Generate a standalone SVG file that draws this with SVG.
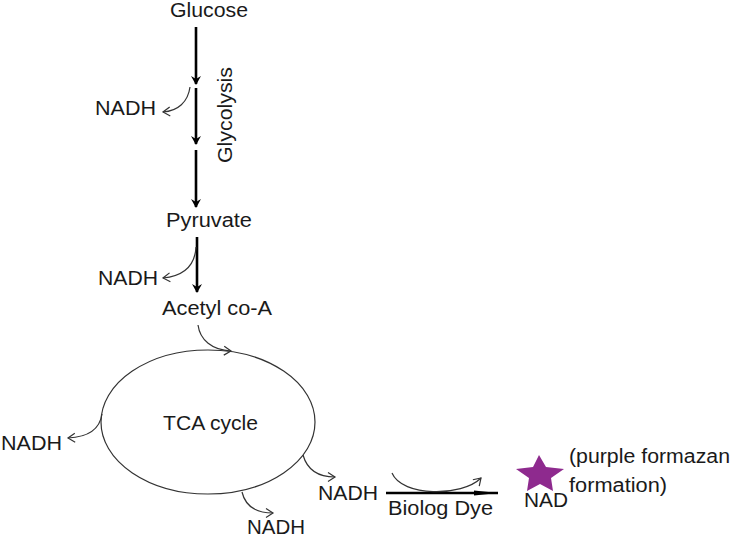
<svg xmlns="http://www.w3.org/2000/svg" width="735" height="538" viewBox="0 0 735 538">
<style>
text{font-family:"Liberation Sans",Arial,sans-serif;font-size:20px;fill:#1a1a1a}
.thick{stroke:#000;stroke-width:2.6;fill:none}
.thin{stroke:#333;stroke-width:1.2;fill:none}
</style>
<defs>
<marker id="ah" markerWidth="10" markerHeight="10" refX="8" refY="5" orient="auto" markerUnits="userSpaceOnUse">
<path d="M0,0 L9,5 L0,10 L3,5 Z" fill="#000"/>
</marker>
<marker id="oh" markerWidth="12" markerHeight="12" refX="9" refY="6" orient="auto" markerUnits="userSpaceOnUse">
<path d="M2,1.5 L9,6 L2,10.5" fill="none" stroke="#333" stroke-width="1.2"/>
</marker>
<marker id="sh" markerWidth="26" markerHeight="10" refX="24" refY="5" orient="auto" markerUnits="userSpaceOnUse">
<path d="M0,2.5 L24,5 L0,7.5 Z" fill="#000"/>
</marker>
</defs>
<rect width="735" height="538" fill="#fff"/>
<g id="connectors">
<line class="thick" x1="196" y1="27" x2="196" y2="84" marker-end="url(#ah)"/>
<line class="thick" x1="196" y1="88" x2="196" y2="144" marker-end="url(#ah)"/>
<line class="thick" x1="196" y1="150" x2="196" y2="207" marker-end="url(#ah)"/>
<path class="thin" d="M190,87 C188,102 178,111 163,112" marker-end="url(#oh)"/>
<line class="thick" x1="197" y1="237" x2="197" y2="292" marker-end="url(#ah)"/>
<path class="thin" d="M196,247 C195,265 184,276 163,278" marker-end="url(#oh)"/>
<path class="thin" d="M198,325 C200,340 212,350 231,351" marker-end="url(#oh)"/>
<path class="thin" d="M102,414 C100,428 90,437 68,438" marker-end="url(#oh)"/>
<path class="thin" d="M303,455 C307,469 318,477 335,477" marker-end="url(#oh)"/>
<path class="thin" d="M242,492 C245,505 255,513 273,513" marker-end="url(#oh)"/>
<line x1="386" y1="493" x2="498" y2="493" stroke="#000" stroke-width="2.4" marker-end="url(#sh)"/>
<path class="thin" d="M392,473 C402,497 462,497 481,478" marker-end="url(#oh)"/>
</g>
<g id="glucose"><text x="209" y="17" text-anchor="middle" textLength="78" lengthAdjust="spacingAndGlyphs">Glucose</text></g>
<g id="glycolysis"><text transform="translate(232,115) rotate(-90)" text-anchor="middle" textLength="96" lengthAdjust="spacingAndGlyphs">Glycolysis</text></g>
<g id="nadh1"><text x="95" y="115" textLength="61" lengthAdjust="spacingAndGlyphs">NADH</text></g>
<g id="pyruvate"><text x="166" y="227" textLength="86" lengthAdjust="spacingAndGlyphs">Pyruvate</text></g>
<g id="nadh2"><text x="98" y="285" textLength="60" lengthAdjust="spacingAndGlyphs">NADH</text></g>
<g id="acetyl"><text x="162" y="315" textLength="110" lengthAdjust="spacingAndGlyphs">Acetyl co-A</text></g>
<g id="tca">
<ellipse cx="208" cy="422" rx="107" ry="72" fill="none" stroke="#333" stroke-width="1.2"/>
<text x="163" y="430" textLength="95" lengthAdjust="spacingAndGlyphs">TCA cycle</text>
</g>
<g id="nadh3"><text x="1" y="450" textLength="61" lengthAdjust="spacingAndGlyphs">NADH</text></g>
<g id="nadh4"><text x="318" y="500" textLength="60" lengthAdjust="spacingAndGlyphs">NADH</text></g>
<g id="nadh5"><text x="247" y="534" textLength="58" lengthAdjust="spacingAndGlyphs">NADH</text></g>
<g id="biolog"><text x="388" y="515" textLength="105" lengthAdjust="spacingAndGlyphs">Biolog Dye</text></g>
<g id="nad">
<polygon points="539,455 546,467 564,469 551,478 553,491 540,484 527,491 529,478 516,469 533,467" fill="#8e2a8e"/>
<text x="524" y="507" textLength="44" lengthAdjust="spacingAndGlyphs">NAD</text>
</g>
<g id="formazan">
<text x="569" y="463" textLength="161" lengthAdjust="spacingAndGlyphs">(purple formazan</text>
<text x="569" y="492" textLength="98" lengthAdjust="spacingAndGlyphs">formation)</text>
</g>
</svg>
